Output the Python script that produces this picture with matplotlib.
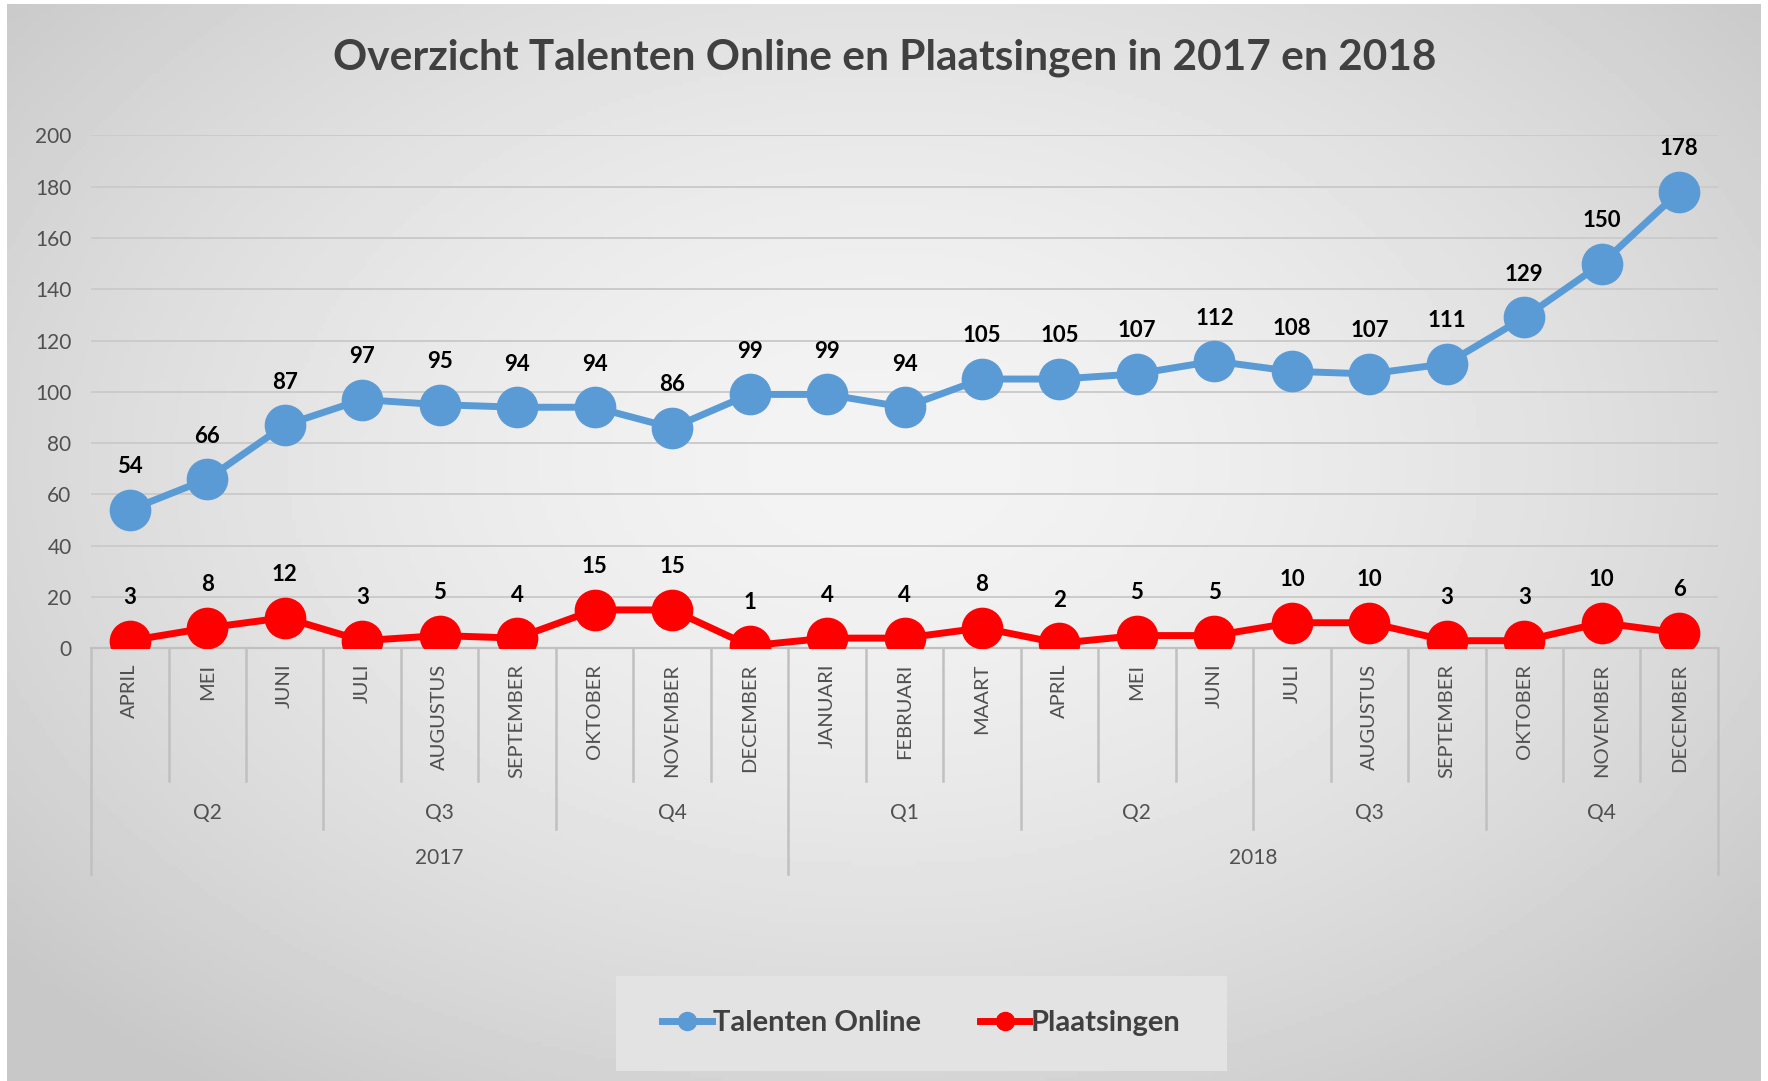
import numpy as np
import matplotlib.pyplot as plt
import matplotlib.transforms as mtransforms
from matplotlib.patches import Rectangle
from matplotlib.lines import Line2D

# ---------- DATA ----------
months = ["APRIL", "MEI", "JUNI", "JULI", "AUGUSTUS", "SEPTEMBER", "OKTOBER", "NOVEMBER", "DECEMBER",
          "JANUARI", "FEBRUARI", "MAART", "APRIL", "MEI", "JUNI", "JULI", "AUGUSTUS", "SEPTEMBER",
          "OKTOBER", "NOVEMBER", "DECEMBER"]
quarters = ["Q2", "Q3", "Q4", "Q1", "Q2", "Q3", "Q4"]
quarter_sizes = [3, 3, 3, 3, 3, 3, 3]
years = ["2017", "2018"]
year_sizes = [9, 12]

talenten = [54, 66, 87, 97, 95, 94, 94, 86, 99,
            99, 94, 105, 105, 107, 112, 108, 107, 111, 129, 150, 178]
plaatsingen = [3, 8, 12, 3, 5, 4, 15, 15, 1,
               4, 4, 8, 2, 5, 5, 10, 10, 3, 3, 10, 6]

# ---------- STYLE ----------
FONT = "Lato"
BLUE = "#5B9BD5"
RED = "#FF0000"
TXT = "#505050"
GRID = "#cbcbcb"

plt.rcParams['font.family'] = [FONT, 'DejaVu Sans']

fig = plt.figure(figsize=(17.68, 10.81), dpi=100)
fig.patch.set_facecolor("white")

# ---------- BACKGROUND GRADIENT ----------
bg = fig.add_axes([0.004, 0.0, 0.992, 0.996], zorder=-10)
gx, gy = np.meshgrid(np.linspace(-1, 1, 400), np.linspace(-1, 1, 250))
r = np.sqrt((gx / 1.0) ** 2 + ((gy + 0.15) / 1.1) ** 2)
shade = 0.955 - 0.17 * np.clip(r / 1.3, 0, 1) ** 1.6
bg.imshow(shade, cmap="gray", vmin=0, vmax=1, aspect="auto", extent=[0, 1, 0, 1])
bg.set_axis_off()

# ---------- MAIN AXES ----------
ax = fig.add_axes([0.0515, 0.4002, 0.9202, 0.4746])
ax.set_facecolor("none")
x = np.arange(len(months))

ax.plot(x, talenten, color=BLUE, lw=5, marker="o", ms=29, zorder=3)
ax.plot(x, plaatsingen, color=RED, lw=5, marker="o", ms=29, zorder=3)

for xi, v in zip(x, talenten):
    ax.annotate(str(v), (xi, v), xytext=(0, 31), textcoords="offset points",
                ha="center", va="center", fontsize=16, fontweight="bold", color="black")
for xi, v in zip(x, plaatsingen):
    ax.annotate(str(v), (xi, v), xytext=(0, 31), textcoords="offset points",
                ha="center", va="center", fontsize=16, fontweight="bold", color="black")

ax.set_xlim(-0.5, len(months) - 0.5)
ax.set_ylim(0, 200)
ax.set_yticks(range(0, 201, 20))
ax.yaxis.grid(True, color=GRID, lw=1.4)
ax.set_axisbelow(True)
ax.tick_params(axis="y", length=0, pad=14, labelsize=15, labelcolor=TXT)
ax.set_xticks(x)
ax.set_xticklabels(months, rotation=90)
ax.tick_params(axis="x", length=0, pad=11, labelsize=14.5, labelcolor=TXT)
for s in ["top", "right", "left"]:
    ax.spines[s].set_visible(False)
ax.spines["bottom"].set_color("#c0c0c0")
ax.spines["bottom"].set_linewidth(1.6)

# ---------- MULTI-LEVEL CATEGORY AXIS ----------
trans = mtransforms.blended_transform_factory(ax.transData, fig.transFigure)
y_axis = 0.4002
y_month, y_quarter, y_year = 0.2775, 0.2331, 0.1915
y_qlab, y_ylab = 0.2479, 0.2063

q_bounds = np.cumsum([0] + quarter_sizes) - 0.5
y_bounds = np.cumsum([0] + year_sizes) - 0.5
for b in np.arange(len(months) + 1) - 0.5:
    if b in y_bounds:
        yb = y_year
    elif b in q_bounds:
        yb = y_quarter
    else:
        yb = y_month
    ax.plot([b, b], [y_axis, yb], transform=trans, color="#c0c0c0", lw=1.8, clip_on=False)

for i, q in enumerate(quarters):
    c = (q_bounds[i] + q_bounds[i + 1]) / 2
    ax.text(c, y_qlab, q, transform=trans, ha="center", va="center", fontsize=15, color=TXT)
for i, yr in enumerate(years):
    c = (y_bounds[i] + y_bounds[i + 1]) / 2
    ax.text(c, y_ylab, yr, transform=trans, ha="center", va="center", fontsize=15, color=TXT)

# ---------- TITLE ----------
fig.text(0.5005, 0.947, "Overzicht Talenten Online en Plaatsingen in 2017 en 2018",
         ha="center", va="center", fontsize=30.5, fontweight="bold", color="#404040")

# ---------- LEGEND ----------
fig.patches.append(Rectangle((0.3484, 0.0093), 0.3456, 0.0879, transform=fig.transFigure,
                             facecolor="#e3e3e3", edgecolor="none", zorder=-5))
handles = [Line2D([], [], color=BLUE, lw=5, marker="o", ms=13),
           Line2D([], [], color=RED, lw=5, marker="o", ms=13)]
fig.legend(handles, ["Talenten Online", "Plaatsingen"], loc="center",
           bbox_to_anchor=(0.5212, 0.0532), ncol=2, frameon=False,
           prop={"size": 21, "weight": "bold"}, labelcolor="#404040",
           handlelength=1.7, handletextpad=0.05, columnspacing=2.0)

fig.savefig("out.png", dpi=100)
